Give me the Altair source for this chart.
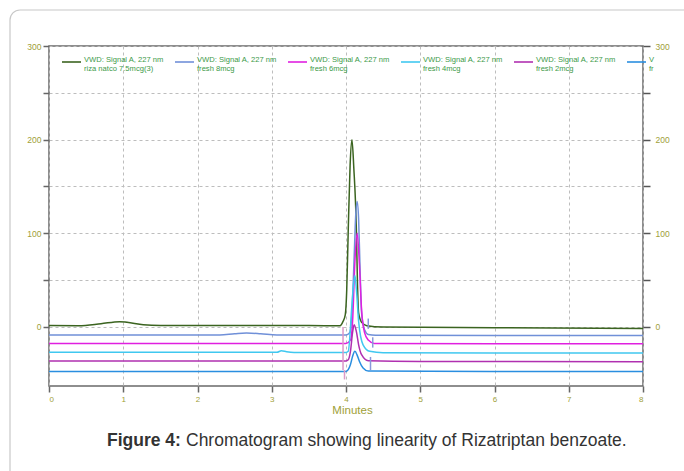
import altair as alt
import pandas as pd

# ---------------- data ----------------
series_names = ["riza natco 7.5mcg(3)", "fresh 8mcg", "fresh 6mcg", "fresh 4mcg", "fresh 2mcg", "fr"]
series_colors = ["#3b6420", "#7090d8", "#e020e0", "#40c8f0", "#b030b0", "#2a8ee0"]
legend_line1 = ["VWD: Signal A, 227 nm"] * 5 + ["V"]
legend_line2 = ["riza natco 7.5mcg(3)", "fresh 8mcg", "fresh 6mcg", "fresh 4mcg", "fresh 2mcg", "fr"]

t_green = [0.0, 0.4, 0.7, 0.95, 1.05, 1.27, 1.5, 2.5, 3.5, 3.92, 3.96, 3.99, 4.01, 4.03, 4.055, 4.08,
           4.105, 4.14, 4.155, 4.17, 4.21, 4.28, 4.5, 6.0, 8.0]
v_green = [1.5, 1.4, 3.5, 5.7, 5.0, 2.4, 1.6, 1.5, 1.5, 1.4, 6, 13, 40, 103, 172, 200,
           170, 103, 45, 15, 5, 1.4, 0.0, -0.7, -1.5]

t_lav = [0.0, 1.0, 2.0, 2.3, 2.5, 2.66, 2.85, 3.07, 3.5, 4.0, 4.05, 4.08, 4.11, 4.13, 4.15, 4.17,
         4.19, 4.21, 4.25, 4.3, 4.4, 6.0, 8.0]
v_lav = [-8.6, -8.6, -8.6, -8.5, -7.2, -6.4, -7.2, -8.6, -8.6, -8.6, -6, 15, 75, 118, 134, 115,
         60, 15, -3, -8, -8.8, -9, -9]

t_mag = [0.0, 2.0, 3.5, 4.0, 4.06, 4.09, 4.12, 4.15, 4.18, 4.21, 4.25, 4.3, 4.38, 6.0, 8.0]
v_mag = [-17.5, -17.5, -17.5, -17.5, -14, 8, 70, 100, 68, 18, -6, -14, -17.5, -18, -18]

t_cyan = [0.0, 2.0, 3.07, 3.13, 3.2, 3.3, 4.0, 4.03, 4.08, 4.1, 4.12, 4.14, 4.17, 4.23, 4.32, 4.5, 6.0, 8.0]
v_cyan = [-27, -27, -27, -25.3, -26.5, -27.3, -27.3, -26, 24, 45, 55, 40, 6, -19, -26, -27.5, -27.8, -27.8]

t_pur = [0.0, 2.0, 4.0, 4.03, 4.06, 4.09, 4.11, 4.14, 4.17, 4.21, 4.3, 5.0, 8.0]
v_pur = [-36.3, -36.3, -36.3, -35, -26, -5, 2.5, -5, -19, -29.6, -36, -36.8, -37]

t_blue = [0.0, 2.0, 4.0, 4.03, 4.06, 4.09, 4.12, 4.15, 4.18, 4.23, 4.3, 6.0, 8.0]
v_blue = [-47.4, -47.4, -47.4, -45.6, -40, -31, -26, -30, -36.6, -43.8, -47, -47.4, -47.4]

# integration event markers (time, from, to, colour)
mark_t = [3.96, 3.98, 4.30, 4.36, 4.33]
mark_v1 = [0, -46, 9, -11, -32]
mark_v2 = [-46, -56, -2, -22, -46]
mark_c = ["#dc98c8", "#dc98c8", "#8898dc", "#8898dc", "#8898dc"]

x_ticks = [0, 1, 2, 3, 4, 5, 6, 7, 8]
y_ticks = [0, 50, 100, 150, 200, 250, 300]

caption_bold = "Figure 4:"
caption_rest = "Chromatogram showing linearity of Rizatriptan benzoate."

# ---------------- tables ----------------
traces = [(t_green, v_green), (t_lav, v_lav), (t_mag, v_mag), (t_cyan, v_cyan), (t_pur, v_pur), (t_blue, v_blue)]
rows = []
for i, (ts, vs) in enumerate(traces):
    for t, v in zip(ts, vs):
        rows.append({"series": series_names[i], "idx": i, "t": t, "v": v})
df = pd.DataFrame(rows)

legend_df = pd.DataFrame({"idx": list(range(6)), "l1": legend_line1, "l2": legend_line2,
                          "color": series_colors})
marks_df = pd.DataFrame({"t": mark_t, "v1": mark_v1, "v2": mark_v2, "c": mark_c})

OLIVE = "#a0a038"
FONT = "Liberation Sans"
xs = alt.Scale(domain=[0, 8], nice=False, zero=False)
ys = alt.Scale(domain=[-63, 300], nice=False, zero=False)

left_axis = alt.Axis(values=y_ticks, labelExpr="datum.value % 100 == 0 ? datum.label : ''",
                     grid=True, gridDash=[3, 3], gridColor="#bdbdbd", gridWidth=1,
                     domain=False, tickColor="#666", tickWidth=1.5, tickSize=6, format="d",
                     labelColor=OLIVE, labelFontSize=8.5, labelFont=FONT, labelPadding=2, title=None)
right_axis = alt.Axis(orient="right", values=y_ticks, format="d",
                      labelExpr="datum.value % 100 == 0 ? datum.label : ''",
                      grid=False, domain=False, tickColor="#555", tickWidth=1.5, tickSize=7,
                      labelColor=OLIVE, labelFontSize=8.5, labelFont=FONT, labelPadding=5, title=None)
x_axis = alt.Axis(values=x_ticks, format="d", grid=True, gridDash=[3, 3], gridColor="#bdbdbd",
                  gridWidth=1, domain=False, tickColor="#666", tickWidth=1.5, tickSize=6,
                  labelColor=OLIVE, labelFontSize=8, labelFont=FONT, labelPadding=3,
                  title="Minutes", titleColor=OLIVE, titleFont=FONT, titleFontSize=11.5,
                  titleFontWeight="normal", titleY=24.5, titleX=303, titleBaseline="middle")

lines = alt.Chart(df).mark_line(strokeWidth=1.5, interpolate="monotone").encode(
    x=alt.X("t:Q", scale=xs, axis=x_axis),
    y=alt.Y("v:Q", scale=ys, axis=left_axis),
    color=alt.Color("series:N", scale=alt.Scale(domain=series_names, range=series_colors), legend=None),
    order=alt.Order("t:Q"),
)

markers = alt.Chart(marks_df).mark_rule(strokeWidth=1.5).encode(
    x=alt.X("t:Q", scale=xs),
    y=alt.Y("v1:Q", scale=ys, axis=right_axis),
    y2="v2:Q",
    color=alt.Color("c:N", scale=None),
)

leg_base = alt.Chart(legend_df).transform_calculate(
    lx="13 + 113 * datum.idx", tx="35 + 113 * datum.idx", lx2="32 + 113 * datum.idx"
)
leg_sym = leg_base.mark_rule(strokeWidth=1.6).encode(
    x=alt.X("lx:Q", scale=None), x2="lx2:Q",
    y=alt.value(16), color=alt.Color("color:N", scale=None),
)
leg_t1 = leg_base.mark_text(align="left", baseline="middle", fontSize=7.6, font=FONT,
                            color="#3c9a48").encode(
    x=alt.X("tx:Q", scale=None), y=alt.value(14), text="l1:N")
leg_t2 = leg_base.mark_text(align="left", baseline="middle", fontSize=7.6, font=FONT,
                            color="#3c9a48").encode(
    x=alt.X("tx:Q", scale=None), y=alt.value(22.5), text="l2:N")

one = alt.Data(values=[{}])
card = alt.Chart(one).mark_rect(fill=None, stroke="#c8c8c8", strokeWidth=1.2, cornerRadius=10).encode(
    x=alt.value(-39), x2=alt.value(660), y=alt.value(-36), y2=alt.value(440))
cap1 = alt.Chart(one).mark_text(align="left", baseline="middle", fontSize=17.5, font=FONT,
                                fontWeight="bold", color="#333333").encode(
    x=alt.value(58), y=alt.value(395), text=alt.value(caption_bold))
cap2 = alt.Chart(one).mark_text(align="left", baseline="middle", fontSize=17.5, font=FONT,
                                color="#333333").encode(
    x=alt.value(137), y=alt.value(395), text=alt.value(caption_rest))

chart = alt.layer(lines, card, markers, leg_sym, leg_t1, leg_t2, cap1, cap2).resolve_axis(
    y="independent"
).properties(
    width=594, height=340,
    padding={"left": 49, "top": 46, "right": 41, "bottom": 85},
    autosize=alt.AutoSizeParams(type="none"),
    background="white",
).configure_view(stroke="#6a6a6a", strokeWidth=1.5)

chart.save("out.html", embed_options={"renderer": "svg", "actions": False})
